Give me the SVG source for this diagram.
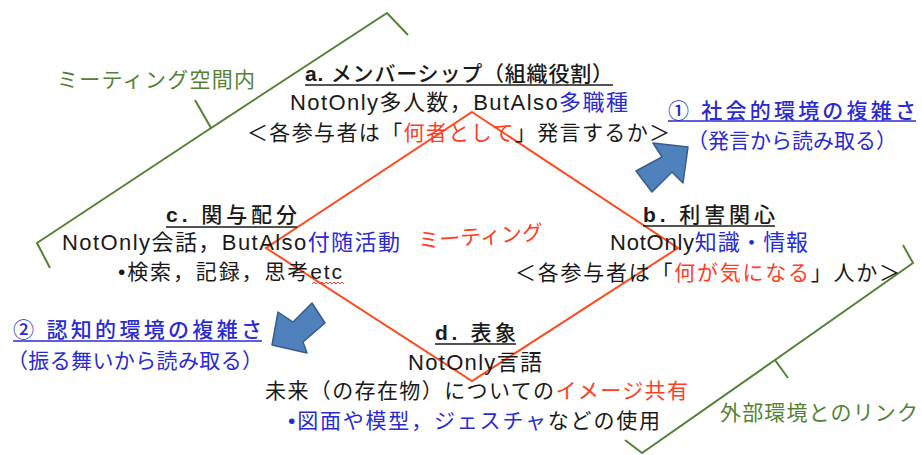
<svg xmlns="http://www.w3.org/2000/svg" width="922" height="455" viewBox="0 0 922 455">
<style>
text{font-family:'Liberation Sans','Noto Sans CJK JP',sans-serif;font-size:21px;fill:#1a1a1a}
.t{font-weight:500}
.b{font-weight:bold}
.bl{fill:#2A2AD4}
.rd{fill:#FF3D1F}
.gr{fill:#548235}
.ul{stroke:#1a1a1a;stroke-width:1.6}
.ulb{stroke:#2A2AD4;stroke-width:1.6}
.brace{fill:none;stroke:#548235;stroke-width:2;stroke-linejoin:miter}
.arrow{fill:#4F81BD;stroke:#385D8A;stroke-width:1.5;stroke-linejoin:round}
</style>
<rect width="922" height="455" fill="#fff"/>

<g id="meeting">
<polygon points="472,112 678,248 472,381 266,248" fill="none" stroke="#FF4B1F" stroke-width="2"/>
<text class="rd" x="418" y="244" textLength="125" lengthAdjust="spacing" transform="rotate(-4 480 236)">ミーティング</text>
</g>

<g id="brace-inside">
<path class="brace" d="M408,35 L387,13 L211,128 L195,100 M211,128 L37,243 L50,268"/>
<text class="gr" x="57" y="87" textLength="198" lengthAdjust="spacing">ミーティング空間内</text>
</g>

<g id="brace-outside">
<path class="brace" d="M903,245 L913,263 L775,360 L788,378 M775,360 L642,453 L625,440"/>
<text class="gr" x="720" y="420" textLength="198" lengthAdjust="spacing">外部環境とのリンク</text>
</g>

<g id="node-a">
<text class="t" x="305" y="81" textLength="308" lengthAdjust="spacing"><tspan class="b">a.</tspan> メンバーシップ（組織役割）</text>
<line class="ul" x1="305" y1="85" x2="613" y2="85"/>
<text x="290" y="110" textLength="338" lengthAdjust="spacing" style="font-size:22px">NotOnly多人数，ButAlso<tspan class="bl">多職種</tspan></text>
<text x="247" y="140" textLength="423" lengthAdjust="spacing">＜各参与者は「<tspan class="rd">何者として</tspan>」発言するか＞</text>
</g>

<g id="node-b">
<text class="t" x="643" y="222" textLength="132" lengthAdjust="spacing"><tspan class="b">b.</tspan> 利害関心</text>
<line class="ul" x1="643" y1="226" x2="775" y2="226"/>
<text x="610" y="250" textLength="198" lengthAdjust="spacing" style="font-size:22px">NotOnly<tspan class="bl">知識・情報</tspan></text>
<text x="515" y="280" textLength="385" lengthAdjust="spacing">＜各参与者は「<tspan class="rd">何が気になる</tspan>」人か＞</text>
</g>

<g id="node-c">
<text class="t" x="166" y="222" textLength="131" lengthAdjust="spacing"><tspan class="b">c.</tspan> 関与配分</text>
<line class="ul" x1="166" y1="227" x2="297" y2="227"/>
<text x="62" y="250" textLength="338" lengthAdjust="spacing" style="font-size:22px">NotOnly会話，ButAlso<tspan class="bl">付随活動</tspan></text>
<text x="118" y="279" textLength="224" lengthAdjust="spacing">•検索，記録，思考etc</text>
<path d="M312,284 l2,-2 l2,2 l2,-2 l2,2 l2,-2 l2,2 l2,-2 l2,2 l2,-2 l2,2 l2,-2 l2,2 l2,-2 l2,2 l2,-2 l2,2" fill="none" stroke="#FF3D1F" stroke-width="1"/>
</g>

<g id="node-d">
<text class="t" x="435" y="340" textLength="81" lengthAdjust="spacing"><tspan class="b">d.</tspan> 表象</text>
<line class="ul" x1="435" y1="344" x2="516" y2="344"/>
<text x="408" y="370" textLength="134" lengthAdjust="spacing" style="font-size:22px">NotOnly言語</text>
<text x="265" y="398" textLength="423" lengthAdjust="spacing">未来（の存在物）についての<tspan class="rd">イメージ共有</tspan></text>
<text x="288" y="428" textLength="372" lengthAdjust="spacing"><tspan class="bl">•図面や模型，ジェスチャ</tspan>などの使用</text>
</g>

<g id="node-social">
<text class="bl t" x="668" y="118" textLength="248" lengthAdjust="spacing">① 社会的環境の複雑さ</text>
<line class="ulb" x1="668" y1="121" x2="916" y2="121"/>
<text class="bl" x="687" y="148" textLength="210" lengthAdjust="spacing">（発言から読み取る）</text>
</g>

<g id="node-cognitive">
<text class="bl t" x="13" y="337" textLength="249" lengthAdjust="spacing">② 認知的環境の複雑さ</text>
<line class="ulb" x1="13" y1="341" x2="262" y2="341"/>
<text class="bl" x="7" y="368" textLength="256" lengthAdjust="spacing">（振る舞いから読み取る）</text>
</g>

<g id="connectors">
<polygon class="arrow" points="688,147 683,183 672,172 652,192 636,171 662,157 653,143"/>
<polygon class="arrow" points="272,345 278,312 293,322 312,303 325,323 303,342 307,353"/>
</g>
</svg>
